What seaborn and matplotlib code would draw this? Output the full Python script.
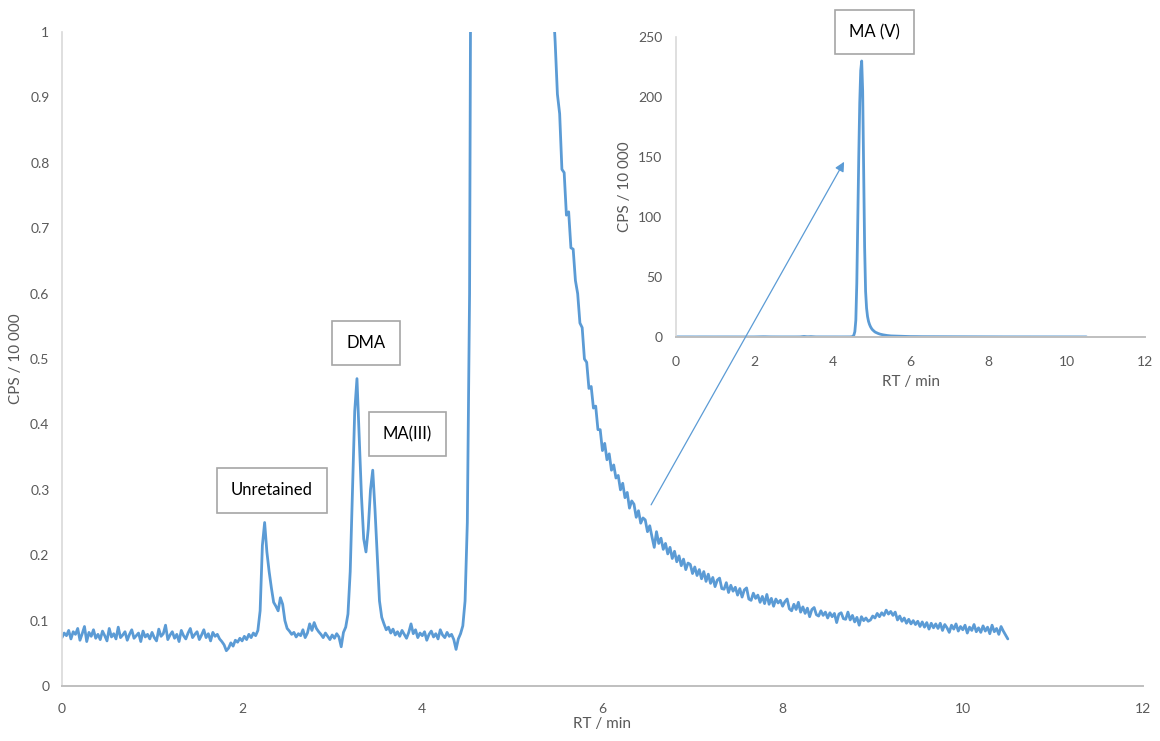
import numpy as np
import matplotlib
matplotlib.use("Agg")
import matplotlib.pyplot as plt
import seaborn as sns

# sampling step of the chromatogram (min)
STEP = 0.025

# signal (CPS / 10 000), segment by segment
baseline_a = [  # 0 - 2.15 min
    0.074, 0.081, 0.077, 0.085, 0.072, 0.083, 0.079, 0.088, 0.070, 0.080,
    0.091, 0.068, 0.082, 0.076, 0.086, 0.073, 0.079, 0.071, 0.084, 0.077,
    0.069, 0.088, 0.075, 0.080, 0.072, 0.090, 0.074, 0.078, 0.083, 0.070,
    0.079, 0.086, 0.073, 0.077, 0.081, 0.068, 0.084, 0.075, 0.079, 0.072,
    0.082, 0.074, 0.069, 0.087, 0.076, 0.080, 0.093, 0.071, 0.078, 0.083,
    0.073, 0.079, 0.068, 0.085, 0.077, 0.072, 0.081, 0.088, 0.074, 0.079,
    0.083, 0.071, 0.078, 0.086, 0.074, 0.080, 0.069, 0.082, 0.076, 0.079,
    0.072, 0.068, 0.063, 0.054, 0.058, 0.066, 0.061, 0.070, 0.067, 0.073,
    0.069, 0.076, 0.071, 0.079, 0.074, 0.081, 0.077,
]
unretained = [  # 2.175 - 2.5 min
    0.085, 0.115, 0.215, 0.250, 0.205, 0.175, 0.150, 0.128, 0.122, 0.115,
    0.135, 0.125, 0.100, 0.088,
]
baseline_b = [  # 2.525 - 3.1 min
    0.084, 0.079, 0.082, 0.075, 0.080, 0.077, 0.086, 0.074, 0.081, 0.095,
    0.085, 0.097, 0.088, 0.083, 0.079, 0.074, 0.081, 0.076, 0.071, 0.078,
    0.073, 0.080, 0.075, 0.060,
]
dma_ma3 = [  # 3.125 - 3.6 min
    0.082, 0.090, 0.110, 0.175, 0.300, 0.420, 0.470, 0.380, 0.290, 0.225,
    0.205, 0.240, 0.300, 0.330, 0.270, 0.200, 0.130, 0.105, 0.095, 0.086,
]
baseline_c = [  # 3.625 - 4.425 min
    0.090, 0.081, 0.087, 0.078, 0.083, 0.076, 0.085, 0.079, 0.073, 0.082,
    0.095, 0.080, 0.086, 0.074, 0.081, 0.077, 0.083, 0.070, 0.079, 0.084,
    0.075, 0.080, 0.072, 0.086, 0.078, 0.074, 0.082, 0.076, 0.079, 0.071,
    0.056, 0.072, 0.080,
]
ma5 = [  # 4.45 - 5.45 min
    0.092, 0.13, 0.25, 0.6, 1.6, 4.5, 14, 45, 100, 150,
    195, 222, 230, 205, 140, 75, 38, 24, 17, 13,
    10.5, 8.6, 7.2, 6.1, 5.3, 4.6, 4.0, 3.6, 3.2, 2.9,
    2.6, 2.35, 2.15, 1.95, 1.8, 1.65, 1.5, 1.38, 1.26, 1.15,
    1.05,
]
tail = [  # 5.475 - 10.5 min
    0.985, 0.905, 0.875, 0.790, 0.785, 0.720, 0.725, 0.670, 0.668, 0.620,
    0.600, 0.555, 0.548, 0.500, 0.495, 0.455, 0.458, 0.425, 0.428, 0.392,
    0.392, 0.360, 0.371, 0.346, 0.355, 0.330, 0.338, 0.318, 0.322, 0.300,
    0.310, 0.288, 0.296, 0.272, 0.283, 0.278, 0.258, 0.268, 0.249, 0.257,
    0.254, 0.236, 0.245, 0.228, 0.212, 0.236, 0.218, 0.226, 0.209, 0.218,
    0.202, 0.212, 0.195, 0.206, 0.190, 0.199, 0.184, 0.194, 0.178, 0.188,
    0.186, 0.172, 0.182, 0.169, 0.178, 0.164, 0.175, 0.160, 0.171, 0.157,
    0.166, 0.152, 0.162, 0.165, 0.149, 0.148, 0.158, 0.143, 0.154, 0.145,
    0.151, 0.139, 0.149, 0.136, 0.147, 0.150, 0.133, 0.131, 0.142, 0.134,
    0.139, 0.128, 0.137, 0.126, 0.140, 0.125, 0.134, 0.122, 0.133, 0.127,
    0.131, 0.122, 0.129, 0.133, 0.118, 0.115, 0.125, 0.117, 0.128, 0.113,
    0.121, 0.111, 0.119, 0.106, 0.117, 0.120, 0.109, 0.107, 0.115, 0.108,
    0.113, 0.104, 0.112, 0.106, 0.111, 0.097, 0.110, 0.112, 0.103, 0.102,
    0.113, 0.101, 0.108, 0.098, 0.105, 0.093, 0.106, 0.100, 0.104, 0.099,
    0.101, 0.107, 0.104, 0.111, 0.106, 0.112, 0.108, 0.116, 0.110, 0.114,
    0.108, 0.113, 0.101, 0.107, 0.099, 0.104, 0.096, 0.102, 0.095, 0.100,
    0.094, 0.099, 0.091, 0.098, 0.090, 0.097, 0.087, 0.096, 0.089, 0.095,
    0.088, 0.096, 0.085, 0.094, 0.089, 0.082, 0.093, 0.087, 0.095, 0.084,
    0.091, 0.086, 0.093, 0.081, 0.090, 0.085, 0.094, 0.083, 0.089, 0.082,
    0.092, 0.084, 0.090, 0.080, 0.093, 0.083, 0.088, 0.079, 0.091, 0.084,
    0.078, 0.072,
]

cps = np.array(baseline_a + unretained + baseline_b + dma_ma3 + baseline_c + ma5 + tail)
rt = np.arange(len(cps)) * STEP

main_yticks = [0, 0.1, 0.2, 0.3, 0.4, 0.5, 0.6, 0.7, 0.8, 0.9, 1]
inset_yticks = [0, 50, 100, 150, 200, 250]
xticks = [0, 2, 4, 6, 8, 10, 12]

# label boxes: (text, x, y)
main_labels = [("Unretained", 2.33, 0.299), ("DMA", 3.375, 0.524), ("MA(III)", 3.835, 0.385)]
inset_label = ("MA (V)", 5.08, 254)

LINE = "#5b9bd5"
GREY = "#595959"
SPINE = "#bfbfbf"

sns.set_theme(style="white")
plt.rcParams["font.family"] = ["Lato", "DejaVu Sans"]

fig = plt.figure(figsize=(11.6, 7.41), dpi=100)
ax = fig.add_axes([0.0534, 0.0742, 0.9319, 0.8826])
ax_in = fig.add_axes([0.5828, 0.5452, 0.4043, 0.4049])

for a in (ax, ax_in):
    sns.lineplot(x=rt, y=cps, ax=a, color=LINE, linewidth=2, estimator=None)
    a.set_xlim(0, 12)
    a.set_xticks(xticks)
    a.set_xticklabels([str(v) for v in xticks])
    for s in ("top", "right"):
        a.spines[s].set_visible(False)
    a.spines["bottom"].set_color(SPINE)
    a.spines["bottom"].set_linewidth(1.4)
    a.spines["left"].set_color("#d9d9d9")
    a.spines["left"].set_linewidth(1.2)
    a.tick_params(length=0, colors=GREY, labelsize=10)
    a.patch.set_alpha(0)

ax.set_ylim(0, 1)
ax.set_yticks(main_yticks)
ax.set_yticklabels([f"{v:g}" for v in main_yticks])
ax.tick_params(axis="y", pad=9)
ax.tick_params(axis="x", pad=12)
ax.set_xlabel("RT / min", color=GREY, fontsize=11, labelpad=2)
ax.set_ylabel("CPS / 10 000", color=GREY, fontsize=11, labelpad=5)

ax_in.set_ylim(0, 250)
ax_in.set_yticks(inset_yticks)
ax_in.set_yticklabels([str(v) for v in inset_yticks])
ax_in.tick_params(axis="y", pad=10)
ax_in.tick_params(axis="x", pad=14)
ax_in.set_xlabel("RT / min", color=GREY, fontsize=11, labelpad=5)
ax_in.set_ylabel("CPS / 10 000", color=GREY, fontsize=11, labelpad=4)

box = dict(boxstyle="square,pad=0.85", facecolor="white", edgecolor="#a6a6a6", linewidth=1.2)
for txt, x, y in main_labels:
    ax.text(x, y, txt, ha="center", va="center", fontsize=12, color="black", bbox=box)
ax_in.text(inset_label[1], inset_label[2], inset_label[0], ha="center", va="center",
           fontsize=12, color="black", bbox=box, clip_on=False)

ax_in.annotate("", xy=(4.3, 146), xycoords="data",
               xytext=(6.54, 0.277), textcoords=ax.transData,
               arrowprops=dict(arrowstyle="-|>", color=LINE, lw=0.9, mutation_scale=14,
                               shrinkA=0, shrinkB=0),
               annotation_clip=False)

fig.savefig("out.png", dpi=100)
